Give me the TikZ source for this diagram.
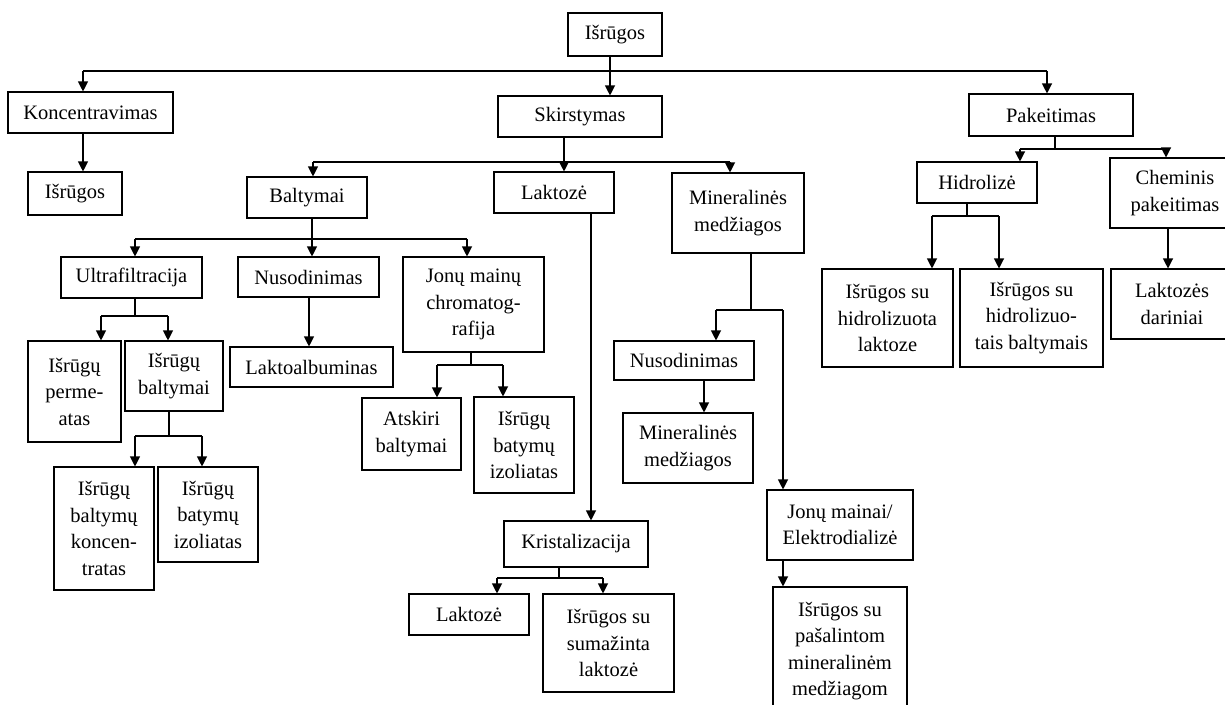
\documentclass[tikz,border=0pt]{standalone}
\usepackage{fontspec}
\setmainfont{Liberation Serif}
\usetikzlibrary{arrows.meta}
\begin{document}
\begin{tikzpicture}[x=1pt,y=-1pt,
  bx/.style={draw, line width=1.1pt, align=center, inner sep=0pt,
    font=\fontsize{20.5}{26.5}\selectfont},
  ln/.style={line width=1.1pt},
  arr/.style={line width=1.1pt, -{Triangle[width=10pt,length=10pt]}}]
\useasboundingbox (0,0) rectangle (1225,704);
\clip (0,0) rectangle (1225,704);
\fill[white] (0,0) rectangle (1225,704);
% boxes
\node[bx, minimum width=94pt, minimum height=43pt] (top) at (615,34.5) {Išrūgos};
\node[bx, minimum width=165pt, minimum height=41pt] (konc) at (90.5,112.5) {Koncentravimas};
\node[bx, minimum width=94pt, minimum height=43pt] (isr1) at (75,193.5) {Išrūgos};
\node[bx, minimum width=164pt, minimum height=41pt] (skir) at (580,116.5) {Skirstymas};
\node[bx, minimum width=164pt, minimum height=42pt] (pak) at (1051,115) {Pakeitimas};
\node[bx, minimum width=120pt, minimum height=41pt] (balt) at (307,197.5) {Baltymai};
\node[bx, minimum width=120pt, minimum height=41pt] (lakt) at (554,192.5) {Laktozė};
\node[bx, minimum width=132pt, minimum height=80pt] (min) at (738,213) {Mineralinės\\medžiagos};
\node[bx, minimum width=120pt, minimum height=41pt] (hidr) at (977,182.5) {Hidrolizė};
\node[bx, minimum width=130pt, minimum height=70pt] (chem) at (1175,193) {Cheminis\\pakeitimas};
\node[bx, minimum width=122pt, minimum height=70pt] (ldar) at (1172,304) {Laktozės\\dariniai};
\node[bx, minimum width=141pt, minimum height=41pt] (ultra) at (131.5,277.5) {Ultrafiltracija};
\node[bx, minimum width=141pt, minimum height=40pt] (nus1) at (308.5,277) {Nusodinimas};
\node[bx, minimum width=141pt, minimum height=95pt] (jon) at (473.5,304.5) {Jonų mainų\\chromatog-\\rafija};
\node[bx, minimum width=93pt, minimum height=101pt] (perm) at (74.5,391.5) {Išrūgų\\perme-\\atas};
\node[bx, minimum width=98pt, minimum height=70pt] (ibalt) at (174,376) {Išrūgų\\baltymai};
\node[bx, minimum width=100pt, minimum height=123pt] (konct) at (104,528.5) {Išrūgų\\baltymų\\koncen-\\tratas};
\node[bx, minimum width=100pt, minimum height=95pt] (izol1) at (208,514.5) {Išrūgų\\batymų\\izoliatas};
\node[bx, minimum width=163pt, minimum height=40pt] (laktalb) at (311.5,367) {Laktoalbuminas};
\node[bx, minimum width=99pt, minimum height=72pt] (atsk) at (411.5,434) {Atskiri\\baltymai};
\node[bx, minimum width=100pt, minimum height=96pt] (izol2) at (524,445) {Išrūgų\\batymų\\izoliatas};
\node[bx, minimum width=140pt, minimum height=39pt] (nus2) at (684,360.5) {Nusodinimas};
\node[bx, minimum width=130pt, minimum height=70pt] (min2) at (688,448) {Mineralinės\\medžiagos};
\node[bx, minimum width=146pt, minimum height=70pt] (jonm) at (840,525) {Jonų mainai/\\Elektrodializė};
\node[bx, minimum width=134pt, minimum height=128pt] (pasal) at (840,651) {Išrūgos su\\pašalintom\\mineralinėm\\medžiagom};
\node[bx, minimum width=144pt, minimum height=46pt] (krist) at (576,544) {Kristalizacija};
\node[bx, minimum width=120pt, minimum height=41pt] (lakt2) at (469,614.5) {Laktozė};
\node[bx, minimum width=131pt, minimum height=98pt] (sumaz) at (608.5,643) {Išrūgos su\\sumažinta\\laktozė};
\node[bx, minimum width=131pt, minimum height=98pt] (hlakt) at (887.5,318) {Išrūgos su\\hidrolizuota\\laktoze};
\node[bx, minimum width=143pt, minimum height=98pt] (hbalt) at (1031.5,318) {Išrūgos su\\hidrolizuo-\\tais baltymais};
% bus coordinates
\coordinate (b0) at (0,71);
\coordinate (b1) at (0,162);
\coordinate (b2) at (0,239);
\coordinate (b3) at (0,316);
\coordinate (b4) at (0,436);
\coordinate (b5) at (0,365);
\coordinate (b6) at (0,578);
\coordinate (b7) at (0,310);
\coordinate (b8) at (0,149);
\coordinate (b9) at (0,216);
% top level
\draw[ln] ([xshift=-5pt]top.south) -- ([xshift=-5pt]top.south |- b0);
\draw[ln] ([xshift=-7.5pt]konc.north |- b0) -- ([xshift=-4pt]pak.north |- b0);
\draw[arr] ([xshift=-7.5pt]konc.north |- b0) -- ([xshift=-7.5pt]konc.north);
\draw[arr] ([xshift=30pt]skir.north |- b0) -- ([xshift=30pt]skir.north);
\draw[arr] ([xshift=-4pt]pak.north |- b0) -- ([xshift=-4pt]pak.north);
\draw[arr] ([xshift=-7.5pt]konc.south) -- ([xshift=8pt]isr1.north);
% Skirstymas
\draw[ln] ([xshift=-16pt]skir.south) -- ([xshift=-16pt]skir.south |- b1);
\draw[ln] ([xshift=6pt]balt.north |- b1) -- ([xshift=-8pt]min.north |- b1);
\draw[arr] ([xshift=6pt]balt.north |- b1) -- ([xshift=6pt]balt.north);
\draw[arr] ([xshift=10pt]lakt.north |- b1) -- ([xshift=10pt]lakt.north);
\draw[arr] ([xshift=-8pt]min.north |- b1) -- ([xshift=-8pt]min.north);
% Baltymai
\draw[ln] ([xshift=5pt]balt.south) -- ([xshift=5pt]balt.south |- b2);
\draw[ln] ([xshift=3.5pt]ultra.north |- b2) -- ([xshift=-6.5pt]jon.north |- b2);
\draw[arr] ([xshift=3.5pt]ultra.north |- b2) -- ([xshift=3.5pt]ultra.north);
\draw[arr] ([xshift=3.5pt]nus1.north |- b2) -- ([xshift=3.5pt]nus1.north);
\draw[arr] ([xshift=-6.5pt]jon.north |- b2) -- ([xshift=-6.5pt]jon.north);
% Ultrafiltracija
\draw[ln] ([xshift=3.5pt]ultra.south) -- ([xshift=3.5pt]ultra.south |- b3);
\draw[ln] ([xshift=26.5pt]perm.north |- b3) -- ([xshift=-6pt]ibalt.north |- b3);
\draw[arr] ([xshift=26.5pt]perm.north |- b3) -- ([xshift=26.5pt]perm.north);
\draw[arr] ([xshift=-6pt]ibalt.north |- b3) -- ([xshift=-6pt]ibalt.north);
% Išrūgų baltymai
\draw[ln] ([xshift=-5pt]ibalt.south) -- ([xshift=-5pt]ibalt.south |- b4);
\draw[ln] ([xshift=31pt]konct.north |- b4) -- ([xshift=-6pt]izol1.north |- b4);
\draw[arr] ([xshift=31pt]konct.north |- b4) -- ([xshift=31pt]konct.north);
\draw[arr] ([xshift=-6pt]izol1.north |- b4) -- ([xshift=-6pt]izol1.north);
% Nusodinimas (left)
\draw[arr] ([xshift=0.5pt]nus1.south) -- ([xshift=-2.5pt]laktalb.north);
% Jonų mainų chromatografija
\draw[ln] ([xshift=-2.5pt]jon.south) -- ([xshift=-2.5pt]jon.south |- b5);
\draw[ln] ([xshift=25.5pt]atsk.north |- b5) -- ([xshift=-21pt]izol2.north |- b5);
\draw[arr] ([xshift=25.5pt]atsk.north |- b5) -- ([xshift=25.5pt]atsk.north);
\draw[arr] ([xshift=-21pt]izol2.north |- b5) -- ([xshift=-21pt]izol2.north);
% Laktozė
\draw[arr] ([xshift=37pt]lakt.south) -- ([xshift=15pt]krist.north);
% Kristalizacija
\draw[ln] ([xshift=-17pt]krist.south) -- ([xshift=-17pt]krist.south |- b6);
\draw[ln] ([xshift=28pt]lakt2.north |- b6) -- ([xshift=-5.5pt]sumaz.north |- b6);
\draw[arr] ([xshift=28pt]lakt2.north |- b6) -- ([xshift=28pt]lakt2.north);
\draw[arr] ([xshift=-5.5pt]sumaz.north |- b6) -- ([xshift=-5.5pt]sumaz.north);
% Mineralinės medžiagos
\draw[ln] ([xshift=13pt]min.south) -- ([xshift=13pt]min.south |- b7);
\draw[ln] ([xshift=32pt]nus2.north |- b7) -- ([xshift=-57pt]jonm.north |- b7);
\draw[arr] ([xshift=32pt]nus2.north |- b7) -- ([xshift=32pt]nus2.north);
\draw[arr] ([xshift=-57pt]jonm.north |- b7) -- ([xshift=-57pt]jonm.north);
\draw[arr] ([xshift=20pt]nus2.south) -- ([xshift=16pt]min2.north);
\draw[arr] ([xshift=-57pt]jonm.south) -- ([xshift=-57pt]pasal.north);
% Pakeitimas
\draw[ln] ([xshift=4pt]pak.south) -- ([xshift=4pt]pak.south |- b8);
\draw[ln] ([xshift=43pt]hidr.north |- b8) -- ([xshift=-9pt]chem.north |- b8);
\draw[arr] ([xshift=43pt]hidr.north |- b8) -- ([xshift=43pt]hidr.north);
\draw[arr] ([xshift=-9pt]chem.north |- b8) -- ([xshift=-9pt]chem.north);
% Hidrolizė
\draw[ln] ([xshift=-10pt]hidr.south) -- ([xshift=-10pt]hidr.south |- b9);
\draw[ln] ([xshift=44.5pt]hlakt.north |- b9) -- ([xshift=-32.5pt]hbalt.north |- b9);
\draw[arr] ([xshift=44.5pt]hlakt.north |- b9) -- ([xshift=44.5pt]hlakt.north);
\draw[arr] ([xshift=-32.5pt]hbalt.north |- b9) -- ([xshift=-32.5pt]hbalt.north);
% Cheminis pakeitimas
\draw[arr] ([xshift=-7pt]chem.south) -- ([xshift=-4pt]ldar.north);
\end{tikzpicture}
\end{document}
